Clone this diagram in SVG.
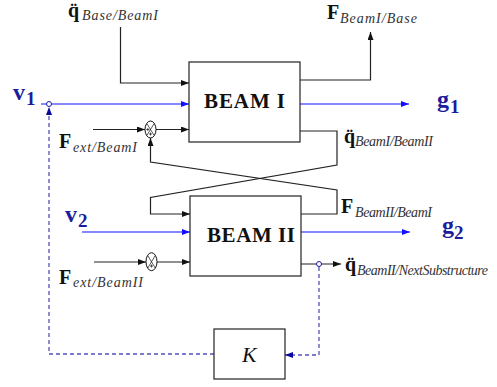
<svg xmlns="http://www.w3.org/2000/svg" width="497" height="387" viewBox="0 0 497 387">
<style>
.box{fill:#fff;stroke:#222;stroke-width:1.2}
.ln{fill:none;stroke:#222;stroke-width:1.2}
.bl{fill:none;stroke:#1010ff;stroke-width:1.2}
.ds{fill:none;stroke:#5252b8;stroke-width:1.3;stroke-dasharray:4 3}
.sj{fill:#fff;stroke:#111;stroke-width:1}
.sx{stroke:#111;stroke-width:0.7}
.bt{font-family:"Liberation Serif",serif;font-weight:bold;font-size:21px;fill:#111}
.mb{font-family:"Liberation Serif",serif;font-weight:bold;font-size:20px;fill:#111}
.sub{font-family:"Liberation Serif",serif;font-style:italic;font-size:14px;fill:#333}
.nv{font-family:"Liberation Serif",serif;font-weight:bold;font-size:24px;fill:#1c1c9c}
.nvs{font-family:"Liberation Serif",serif;font-weight:bold;font-size:19px;fill:#1c1c9c}
.it{font-family:"Liberation Serif",serif;font-style:italic;font-size:22px;fill:#111}
</style>
<defs>
<marker id="ak" viewBox="0 0 10 10" refX="10" refY="5" markerWidth="8" markerHeight="6" preserveAspectRatio="none" markerUnits="userSpaceOnUse" orient="auto"><path d="M0,0 L10,5 L0,10 z" fill="#111"/></marker>
<marker id="ab" viewBox="0 0 10 10" refX="10" refY="5" markerWidth="8" markerHeight="6" preserveAspectRatio="none" markerUnits="userSpaceOnUse" orient="auto"><path d="M0,0 L10,5 L0,10 z" fill="#1010ff"/></marker>
<marker id="an" viewBox="0 0 10 10" refX="10" refY="5" markerWidth="8" markerHeight="6" preserveAspectRatio="none" markerUnits="userSpaceOnUse" orient="auto"><path d="M0,0 L10,5 L0,10 z" fill="#0a0a9a"/></marker>
</defs>

<g id="connectors">
<path class="ln" d="M120.5,27 V83 H189" marker-end="url(#ak)"/>
<path class="bl" d="M41,104 H189" marker-end="url(#ab)"/>
<path class="ln" d="M93,129.5 H145" marker-end="url(#ak)"/>
<path class="ln" d="M156,129.5 H189" marker-end="url(#ak)"/>
<path class="ln" d="M300,80 H370.5 V32" marker-end="url(#ak)"/>
<path class="bl" d="M300,104 H409" marker-end="url(#ab)"/>
<path class="ln" d="M300,131 H337 V165 L150.5,197.5 V214 H190" marker-end="url(#ak)"/>
<path class="ln" d="M301,214 H337 V190 L150.5,162 V138" marker-end="url(#ak)"/>
<path class="bl" d="M82,232 H190" marker-end="url(#ab)"/>
<path class="bl" d="M301,232 H410" marker-end="url(#ab)"/>
<path class="ln" d="M94,262 H146" marker-end="url(#ak)"/>
<path class="ln" d="M157,262 H190" marker-end="url(#ak)"/>
<path class="ln" d="M301,264 H341" marker-end="url(#ak)"/>
<path class="ds" d="M319,267 V355 H285" marker-end="url(#an)"/>
<path class="ds" d="M214,354 H49 V107" marker-end="url(#an)"/>
<circle cx="319" cy="264" r="2.5" fill="#fff" stroke="#1a1aa8" stroke-width="1"/>
<circle cx="49" cy="104" r="2.5" fill="#fff" stroke="#1a1aa8" stroke-width="1"/>
</g>

<g id="beam1">
<rect class="box" x="189" y="62" width="111" height="80"/>
<text class="bt" x="244.5" y="108" text-anchor="middle" textLength="81">BEAM I</text>
</g>

<g id="beam2">
<rect class="box" x="190" y="196" width="111" height="80"/>
<text class="bt" x="207" y="242" textLength="88">BEAM II</text>
</g>

<g id="K">
<rect class="box" x="214" y="329" width="71" height="50"/>
<text class="it" x="242" y="362">K</text>
</g>

<g id="sum1">
<ellipse class="sj" cx="150.5" cy="129.5" rx="5.5" ry="8.5"/>
<path class="sx" d="M146.8,123.5 L154.2,135.5 M154.2,123.5 L146.8,135.5 M146.3,129.5 h3 M147.8,128 v3 M149,134 h3 M150.5,132.5 v3"/>
</g>

<g id="sum2">
<ellipse class="sj" cx="151.5" cy="261.7" rx="5.5" ry="9"/>
<path class="sx" d="M147.8,255.5 L155.2,268 M155.2,255.5 L147.8,268 M150,266 h3 M151.5,264.5 v3"/>
</g>

<g id="label-qbase">
<text class="mb" x="68" y="17">q̈</text>
<text class="sub" x="82" y="20" textLength="76">Base/BeamI</text>
</g>
<g id="label-fbase">
<text class="mb" x="327" y="19">F</text>
<text class="sub" x="340" y="23" textLength="77">BeamI/Base</text>
</g>
<g id="label-v1">
<text class="nv" x="13" y="100">v</text>
<text class="nvs" x="26" y="105">1</text>
</g>
<g id="label-g1">
<text class="nv" x="437" y="107">g</text>
<text class="nvs" x="450" y="113">1</text>
</g>
<g id="label-fext1">
<text class="mb" x="59" y="148">F</text>
<text class="sub" x="73" y="152" textLength="64">ext/BeamI</text>
</g>
<g id="label-q12">
<text class="mb" x="344" y="143">q̈</text>
<text class="sub" x="355" y="146" textLength="78">BeamI/BeamII</text>
</g>
<g id="label-f21">
<text class="mb" x="341" y="213">F</text>
<text class="sub" x="355" y="217" textLength="77">BeamII/BeamI</text>
</g>
<g id="label-v2">
<text class="nv" x="65" y="222">v</text>
<text class="nvs" x="78" y="227">2</text>
</g>
<g id="label-g2">
<text class="nv" x="442" y="233">g</text>
<text class="nvs" x="454" y="239">2</text>
</g>
<g id="label-fext2">
<text class="mb" x="59" y="284">F</text>
<text class="sub" x="73" y="287" textLength="70">ext/BeamII</text>
</g>
<g id="label-qnext">
<text class="mb" x="345" y="271">q̈</text>
<text class="sub" x="357" y="275" textLength="131">BeamII/NextSubstructure</text>
</g>
</svg>
